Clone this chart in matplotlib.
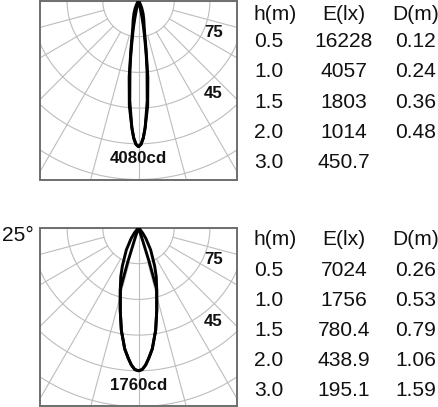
import numpy as np
import matplotlib
matplotlib.use("Agg")
import matplotlib.pyplot as plt
from matplotlib import font_manager

W, H, DPI = 439, 407, 100
PX_RING = 35.7          # pixels between two rings of the polar grid

# beam data: angle from nadir (deg) and intensity (cd)
narrow_ang_a = [0, 1, 2, 3, 5, 7, 9, 11, 13, 16, 20, 25, 30, 35, 40]
narrow_cd_a = [4080, 4020, 3850, 3550, 2950, 2150, 1350, 900, 700, 540, 380, 220, 110, 40, 0]
narrow_ang_b = [0, 1, 2, 3, 5, 7, 8, 9, 10, 11, 12, 13, 14, 16, 18]
narrow_cd_b = [4080, 4010, 3830, 3560, 2800, 1960, 1570, 1200, 920, 700, 480, 300, 170, 60, 0]

wide_ang_a = [0, 1.5, 3, 4.5, 6.5, 9.5, 12.5, 16.5, 20, 23, 29, 35, 40, 45, 50]
wide_cd_a = [1760, 1745, 1690, 1610, 1500, 1280, 1040, 790, 640, 510, 310, 160, 80, 30, 0]
wide_ang_b = [0, 1.5, 3, 4.5, 6.5, 9.5, 12.5, 16.5, 17.5, 18.5, 20, 22]
wide_cd_b = [1760, 1745, 1690, 1610, 1500, 1280, 1040, 790, 450, 150, 30, 0]

narrow_ring_cd = 1000
wide_ring_cd = 440
narrow_peak = "4080cd"
wide_peak = "1760cd"
wide_title = "25°"
angle_labels = ["75", "45"]

heights = ["0.5", "1.0", "1.5", "2.0", "3.0"]
narrow_lux = ["16228", "4057", "1803", "1014", "450.7"]
narrow_diam = ["0.12", "0.24", "0.36", "0.48", ""]
wide_lux = ["7024", "1756", "780.4", "438.9", "195.1"]
wide_diam = ["0.26", "0.53", "0.79", "1.06", "1.59"]
headers = ["h(m)", "E(lx)", "D(m)"]

# Liberation Sans Narrow would match the labels best, plain bold otherwise
names = {f.name for f in font_manager.fontManager.ttflist}
if "Liberation Sans Narrow" in names:
    bold_font = dict(family="Liberation Sans Narrow", weight="bold", size=13.3)
else:
    bold_font = dict(family="Liberation Sans", weight="bold", size=12.2)
reg_font = dict(family="Liberation Sans", size=15.1, color="#111111")


def polar_panel(fig, left, top, width, height, ring_cd, curves, peak):
    ax = fig.add_axes([left / W, 1 - (top + height) / H, width / W, height / H])
    half = width / 2 / PX_RING
    ax.set_xlim(-half, half)
    ax.set_ylim(-height / PX_RING, 0)
    ax.set_xticks([])
    ax.set_yticks([])
    for s in ax.spines.values():
        s.set_color("#6e6e6e")
        s.set_linewidth(1.4)

    grid = dict(color="#bdbdbd", lw=0.8, zorder=1)
    t = np.linspace(-np.pi / 2, np.pi / 2, 300)
    for k in range(1, 7):
        ax.plot(k * np.sin(t), -k * np.cos(t), **grid)
    for a in range(15, 91, 15):
        for sgn in (-1, 1):
            th = np.radians(sgn * a)
            ax.plot([np.sin(th), 8 * np.sin(th)], [-np.cos(th), -8 * np.cos(th)], **grid)
    ax.plot([0, 0], [0, -8], **grid)

    for ang, cd in curves:
        ang = np.radians(np.r_[-np.array(ang[::-1]), np.array(ang[1:])])
        cd = np.r_[np.array(cd[::-1]), np.array(cd[1:])] / ring_cd
        ax.plot(cd * np.sin(ang), -cd * np.cos(ang), color="black", lw=2.1,
                zorder=3, solid_joinstyle="round")

    ax.text(0, -158 / PX_RING, peak, ha="center", va="center", color="#111111", **bold_font)
    ax.text(75 / PX_RING, -31 / PX_RING, angle_labels[0], ha="center", va="center",
            color="#111111", **bold_font)
    ax.text(75 / PX_RING, -93 / PX_RING, angle_labels[1], ha="center", va="center",
            color="#111111", **bold_font)
    return ax


def table(fig, head_y, row0_y, step, lux, diam):
    cols = [(254, "left"), (344, "center"), (416, "center")]
    for (x, ha), txt in zip(cols, headers):
        fig.text(x / W, 1 - head_y / H, txt, ha=ha, va="baseline", **reg_font)
    for i, (h, e, d) in enumerate(zip(heights, lux, diam)):
        y = row0_y + i * step
        for (x, ha), txt in zip(cols, (h, e, d)):
            fig.text(x / W, 1 - y / H, txt, ha=ha, va="baseline", **reg_font)


fig = plt.figure(figsize=(W / DPI, H / DPI), dpi=DPI)
fig.patch.set_facecolor("white")

polar_panel(fig, 40, 1, 197, 179, narrow_ring_cd,
            [(narrow_ang_a, narrow_cd_a), (narrow_ang_b, narrow_cd_b)], narrow_peak)
polar_panel(fig, 40, 228, 197, 178, wide_ring_cd,
            [(wide_ang_a, wide_cd_a), (wide_ang_b, wide_cd_b)], wide_peak)

table(fig, 20, 47, 30.3, narrow_lux, narrow_diam)
table(fig, 245, 276, 30.0, wide_lux, wide_diam)

fig.text(34 / W, 1 - 241 / H, wide_title, ha="right", va="baseline", **reg_font)

fig.savefig("out.png", dpi=DPI, facecolor="white")
